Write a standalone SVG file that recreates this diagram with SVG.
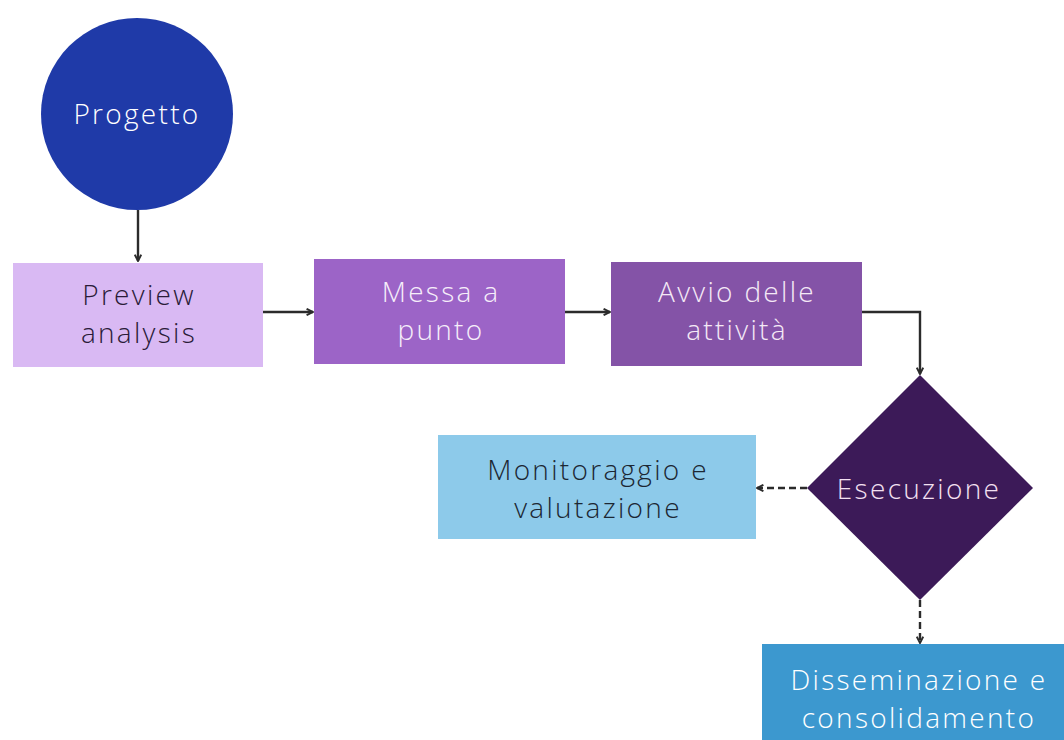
<svg xmlns="http://www.w3.org/2000/svg" width="1064" height="740" viewBox="0 0 1064 740">
  <defs>
    <style>
      .lbl { font-family: "Open Sans", "Lato", "Liberation Sans", sans-serif; font-size: 28px; font-weight: 300; letter-spacing: 2.3px; text-anchor: middle; }
      .edge { fill: none; stroke: #2b2b2b; stroke-width: 2.4; }
      .dash { stroke-dasharray: 7 4; }
    </style>
    <marker id="ah" viewBox="0 0 10 10" refX="9" refY="5" markerWidth="8" markerHeight="8" markerUnits="userSpaceOnUse" orient="auto">
      <path d="M1,1 L9,5 L1,9" fill="none" stroke="#2b2b2b" stroke-width="2.4"/>
    </marker>
  </defs>
  <rect width="1064" height="740" fill="#ffffff"/>

  <g id="connectors">
    <path class="edge" d="M138,210 L138,261" marker-end="url(#ah)"/>
    <path class="edge" d="M263,312 L313,312" marker-end="url(#ah)"/>
    <path class="edge" d="M565,312 L610,312" marker-end="url(#ah)"/>
    <path class="edge" d="M862,312 L920,312 L920,374" marker-end="url(#ah)"/>
    <path class="edge dash" d="M807,488 L757,488" marker-end="url(#ah)"/>
    <path class="edge dash" d="M920,600 L920,643" marker-end="url(#ah)"/>
  </g>

  <g id="progetto">
    <circle cx="137" cy="114" r="96" fill="#1f3aa8"/>
    <text class="lbl" x="137" y="124" fill="#ffffff">Progetto</text>
  </g>

  <g id="preview">
    <rect x="13" y="263" width="250" height="104" fill="#d9b9f3"/>
    <text class="lbl" x="139" y="305" fill="#2a1b38">Preview</text>
    <text class="lbl" x="139" y="343" fill="#2a1b38">analysis</text>
  </g>

  <g id="messa">
    <rect x="314" y="259" width="251" height="105" fill="#9c64c7"/>
    <text class="lbl" x="441" y="301.5" fill="#f6eefa">Messa a</text>
    <text class="lbl" x="441" y="339.5" fill="#f6eefa">punto</text>
  </g>

  <g id="avvio">
    <rect x="611" y="262" width="251" height="104" fill="#8453a7"/>
    <text class="lbl" x="737" y="301.5" fill="#f4e9f6">Avvio delle</text>
    <text class="lbl" x="737" y="339.5" fill="#f4e9f6">attività</text>
  </g>

  <g id="esecuzione">
    <polygon points="920,375 1033,488 920,600 807,488" fill="#3c1a58"/>
    <text class="lbl" x="919" y="499" fill="#f3e0f1">Esecuzione</text>
  </g>

  <g id="monitoraggio">
    <rect x="438" y="435" width="318" height="104" fill="#8dcaea"/>
    <text class="lbl" x="598" y="479.5" fill="#1c2733">Monitoraggio e</text>
    <text class="lbl" x="598" y="517.5" fill="#1c2733">valutazione</text>
  </g>

  <g id="disseminazione">
    <rect x="762" y="644" width="302" height="96" fill="#3c98cf"/>
    <text class="lbl" x="919" y="689.5" fill="#ffffff">Disseminazione e</text>
    <text class="lbl" x="919" y="727.5" fill="#ffffff">consolidamento</text>
  </g>
</svg>
